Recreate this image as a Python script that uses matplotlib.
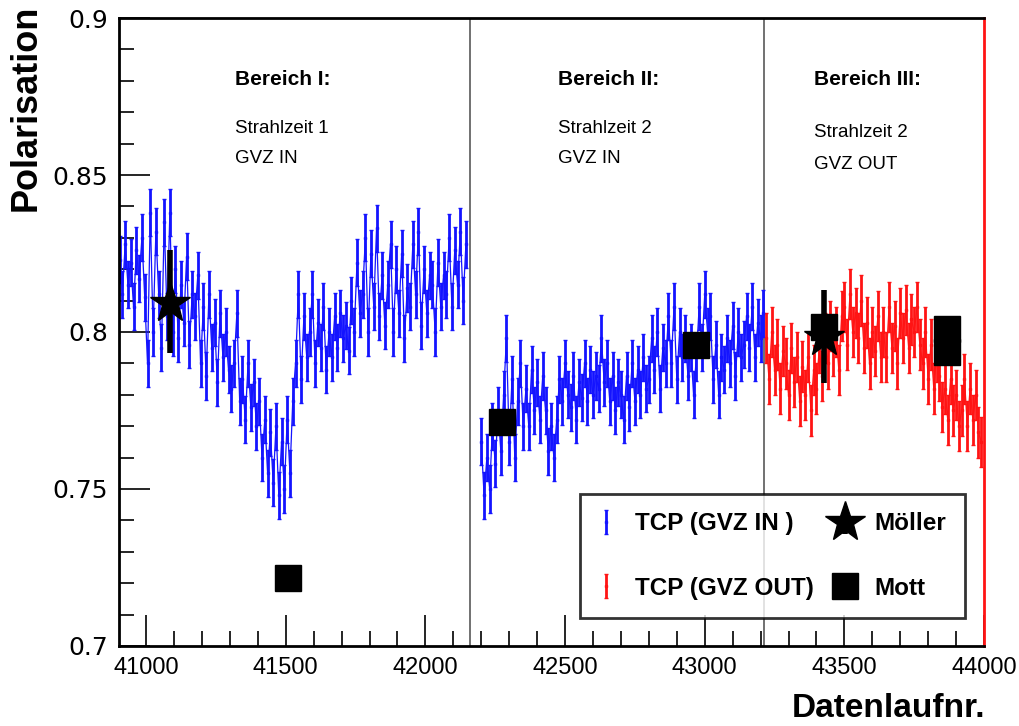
import numpy as np
import matplotlib
matplotlib.use("Agg")
import matplotlib.pyplot as plt
from matplotlib.ticker import MultipleLocator

# TCP Polarisation, Bereich I (GVZ IN), Datenlauf 40905 ... 42145, Schritt 10
tcp1_start = 40905
tcp1_pol = [0.823, 0.812, 0.828, 0.815, 0.822, 0.808, 0.826, 0.817, 0.830, 0.811,
            0.790, 0.838, 0.800, 0.832, 0.812,
            0.795, 0.835, 0.805, 0.838, 0.800,
            0.820, 0.798, 0.815, 0.803, 0.824, 0.796, 0.812, 0.805, 0.818,
            0.790, 0.808, 0.786, 0.812, 0.795, 0.803, 0.784, 0.806, 0.792, 0.800, 0.788,
            0.782, 0.790, 0.806, 0.778,
            0.785, 0.772, 0.790, 0.776, 0.784, 0.770,
            0.778, 0.760, 0.772, 0.755, 0.768,
            0.752, 0.770, 0.748, 0.765, 0.750, 0.772, 0.755,
            0.778, 0.790, 0.812,
            0.785, 0.805, 0.792, 0.800, 0.812, 0.790, 0.803, 0.795, 0.808, 0.788, 0.800, 0.792, 0.805,
            0.795, 0.806, 0.798, 0.802, 0.794,
            0.810, 0.800, 0.822, 0.806,
            0.812, 0.830, 0.800, 0.825, 0.808, 0.833, 0.805, 0.818, 0.802,
            0.815, 0.828, 0.800, 0.820, 0.806, 0.825, 0.798, 0.814,
            0.808, 0.828, 0.812, 0.832, 0.802, 0.820, 0.806, 0.818,
            0.815, 0.800, 0.822, 0.808, 0.818,
            0.812, 0.830, 0.808, 0.826, 0.815, 0.832, 0.810, 0.828]

# Bereich II (GVZ IN), 42200 ... 43210
tcp2_start = 42200
tcp2_pol = [0.765, 0.748, 0.760, 0.750, 0.770,
            0.758, 0.775, 0.762, 0.780, 0.798, 0.765,
            0.785, 0.760, 0.778, 0.790, 0.770,
            0.782, 0.770, 0.788, 0.775, 0.784, 0.772, 0.786,
            0.775, 0.762, 0.770, 0.760, 0.772,
            0.785, 0.778, 0.790, 0.780,
            0.776, 0.786, 0.772, 0.784, 0.779,
            0.790, 0.778, 0.788, 0.780, 0.786,
            0.782, 0.798, 0.784, 0.790,
            0.778, 0.786, 0.775, 0.784, 0.780,
            0.772, 0.786, 0.776, 0.790, 0.778,
            0.788, 0.780, 0.792, 0.782,
            0.785, 0.798, 0.788, 0.800, 0.782, 0.795, 0.790,
            0.805, 0.790, 0.808, 0.785, 0.800, 0.792, 0.798,
            0.786, 0.795, 0.780, 0.792,
            0.808, 0.795, 0.812, 0.800, 0.805,
            0.785, 0.796, 0.780, 0.792, 0.788,
            0.798, 0.790, 0.802, 0.786, 0.800, 0.792, 0.796,
            0.805, 0.795, 0.808, 0.792, 0.803, 0.798, 0.806]

# Bereich III (GVZ OUT), 43220 ... 43990
tcp3_start = 43220
tcp3_pol = [0.798, 0.785, 0.800, 0.788, 0.796, 0.782, 0.794,
            0.790, 0.780, 0.795, 0.784, 0.792, 0.778, 0.789,
            0.780, 0.792, 0.775, 0.788, 0.782, 0.795, 0.786,
            0.798, 0.790, 0.802, 0.794, 0.800, 0.788, 0.805,
            0.808, 0.796, 0.812, 0.800, 0.806, 0.798, 0.810,
            0.795, 0.803, 0.790, 0.800, 0.794, 0.805, 0.792,
            0.800, 0.792, 0.808, 0.795, 0.802, 0.790, 0.806,
            0.798, 0.807, 0.795, 0.804, 0.800, 0.808, 0.796,
            0.790, 0.800, 0.785, 0.796, 0.782, 0.792,
            0.786, 0.776, 0.782, 0.772, 0.785, 0.775, 0.780, 0.770,
            0.775, 0.785, 0.770, 0.782, 0.772, 0.780, 0.768, 0.765]

run_step = 10
tcp_in_err = 0.0075
tcp_out_err = 0.008

# Moeller Messungen
moller_run = [41086, 43427]
moller_pol = [0.8092, 0.7984]
moller_err_lo = [0.0159, 0.0146]
moller_err_hi = [0.0169, 0.0150]

# Mott Messungen
mott_run = [41508, 42275, 42969, 43427, 43868, 43868]
mott_pol = [0.7217, 0.7713, 0.7959, 0.8016, 0.8010, 0.7937]
mott_err = [0.0035, 0.0018, 0.0020, 0.0015, 0.0015, 0.0015]

# Grenzen der Bereiche
bereich_grenzen = [42160, 43213]

x1 = tcp1_start + run_step * np.arange(len(tcp1_pol))
x2 = tcp2_start + run_step * np.arange(len(tcp2_pol))
x3 = tcp3_start + run_step * np.arange(len(tcp3_pol))

fig = plt.figure(figsize=(10.19, 7.26), dpi=100)
ax = fig.add_axes([0.1168, 0.1102, 0.8489, 0.865])

blue = "#1414ff"
red = "#ff1414"
ebkw = dict(fmt="s", ms=2, elinewidth=2.0, capsize=1.2, capthick=1)
# duenne Verbindungslinie wie im ROOT-Bild
ax.plot(x1, tcp1_pol, color=blue, lw=0.9)
ax.plot(x2, tcp2_pol, color=blue, lw=0.9)
ax.plot(x3, tcp3_pol, color=red, lw=0.9)
h_in = ax.errorbar(x1, tcp1_pol, yerr=tcp_in_err, color=blue, **ebkw)
ax.errorbar(x2, tcp2_pol, yerr=tcp_in_err, color=blue, **ebkw)
h_out = ax.errorbar(x3, tcp3_pol, yerr=tcp_out_err, color=red, **ebkw)

for g in bereich_grenzen:
    ax.axvline(g, color="#666666", lw=1.3, zorder=1)

h_mott = ax.errorbar(mott_run, mott_pol, yerr=mott_err, fmt="s", color="black",
                     ms=19, elinewidth=2, capsize=0, zorder=5)
h_moller = ax.errorbar(moller_run, moller_pol, yerr=[moller_err_lo, moller_err_hi],
                       fmt="*", color="black", ms=30, elinewidth=4, capsize=0, zorder=6)

ax.set_xlim(40903, 44000)
ax.set_ylim(0.7, 0.9)

ax.xaxis.set_major_locator(MultipleLocator(500))
ax.xaxis.set_minor_locator(MultipleLocator(100))
ax.yaxis.set_major_locator(MultipleLocator(0.05))
ax.yaxis.set_minor_locator(MultipleLocator(0.01))
ax.tick_params(axis="both", which="both", direction="in", top=False, right=False, width=1.2)
ax.tick_params(axis="both", which="major", length=22)
ax.tick_params(axis="both", which="minor", length=11)
ax.set_yticks([0.7, 0.75, 0.8, 0.85, 0.9])
ax.set_yticklabels(["0.7", "0.75", "0.8", "0.85", "0.9"], fontsize=18, family="DejaVu Sans")
xt = [41000, 41500, 42000, 42500, 43000, 43500, 44000]
ax.set_xticks(xt)
ax.set_xticklabels([str(v) for v in xt], fontsize=17,
                   family=["Liberation Sans", "DejaVu Sans"])
ax.tick_params(axis="x", pad=8)
ax.tick_params(axis="y", pad=8)

for side in ["left", "bottom", "top"]:
    ax.spines[side].set_color("black")
    ax.spines[side].set_linewidth(2)
ax.spines["right"].set_color(red)
ax.spines["right"].set_linewidth(2)

lab_font = ["Liberation Sans", "DejaVu Sans"]
fig.text(0.026, 0.993, "Polarisation", rotation=90, ha="center", va="top",
         fontsize=26, fontweight="bold", family=lab_font)
fig.text(0.967, 0.003, "Datenlaufnr.", ha="right", va="bottom",
         fontsize=24, fontweight="bold", family=lab_font)

txt_font = ["Liberation Sans", "DejaVu Sans"]
ax.text(41320, 0.8805, "Bereich I:", fontsize=15, fontweight="bold", family=txt_font, va="center")
ax.text(41320, 0.8648, "Strahlzeit 1", fontsize=13.5, family=txt_font, va="center")
ax.text(41320, 0.8553, "GVZ IN", fontsize=13.5, family=txt_font, va="center")
ax.text(42473, 0.8805, "Bereich II:", fontsize=15, fontweight="bold", family=txt_font, va="center")
ax.text(42473, 0.8648, "Strahlzeit 2", fontsize=13.5, family=txt_font, va="center")
ax.text(42473, 0.8553, "GVZ IN", fontsize=13.5, family=txt_font, va="center")
ax.text(43390, 0.8805, "Bereich III:", fontsize=15, fontweight="bold", family=txt_font, va="center")
ax.text(43390, 0.8635, "Strahlzeit 2", fontsize=13.5, family=txt_font, va="center")
ax.text(43390, 0.8533, "GVZ OUT", fontsize=13.5, family=txt_font, va="center")

leg = ax.legend([h_in, h_out, h_moller, h_mott],
                ["TCP (GVZ IN )", "TCP (GVZ OUT)", "Möller", "Mott"],
                ncol=2, loc="lower right", bbox_to_anchor=(0.9775, 0.0446),
                frameon=True, fancybox=False, edgecolor="black",
                prop={"family": txt_font, "weight": "bold", "size": 17.5},
                handlelength=0.6, handletextpad=0.9, columnspacing=1.0,
                labelspacing=1.7, borderpad=0.75, borderaxespad=0, markerscale=1.0)
leg.get_frame().set_linewidth(2)

fig.savefig("out.png", dpi=100)
